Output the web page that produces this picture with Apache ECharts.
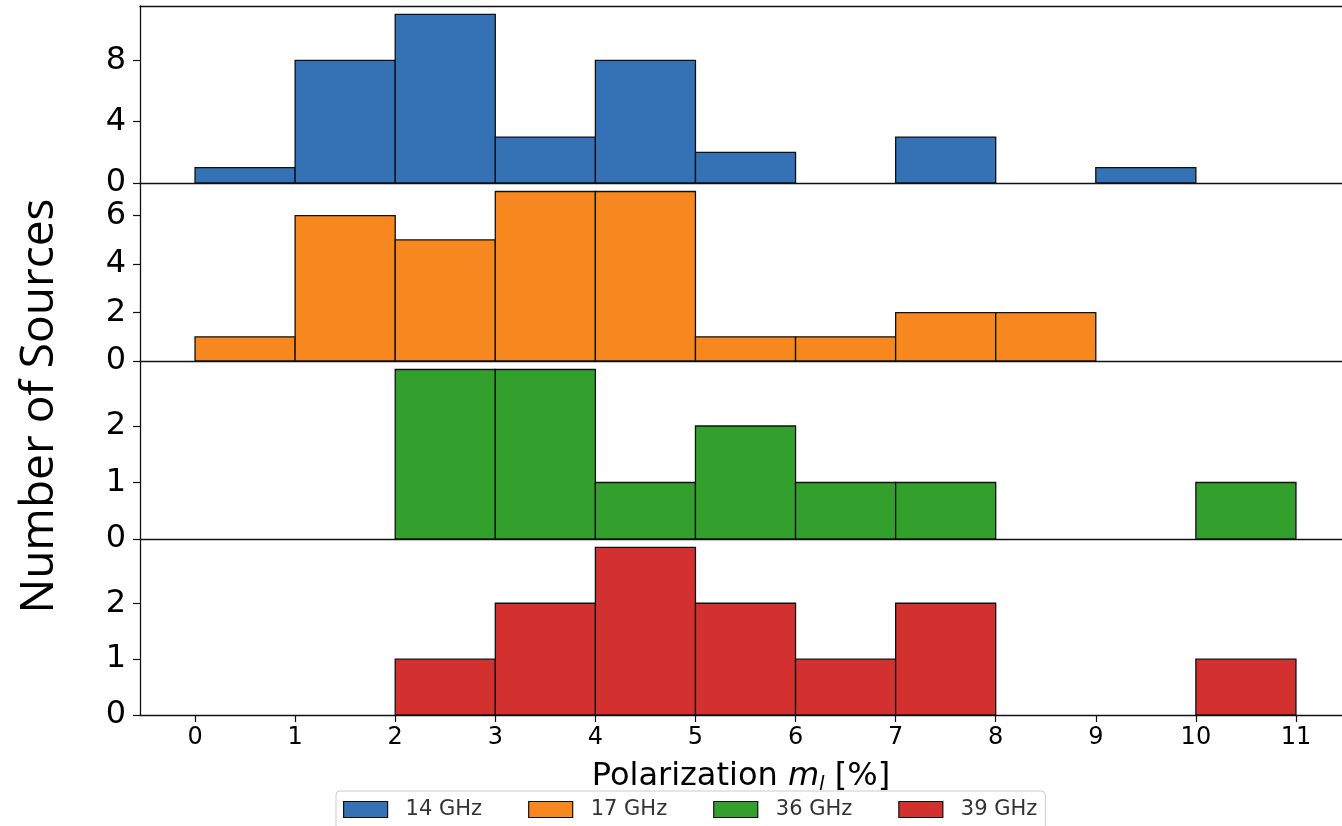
<!DOCTYPE html>
<html>
<head>
<meta charset="utf-8">
<script src="https://cdn.jsdelivr.net/npm/echarts@6/dist/echarts.min.js"></script>
<style>html,body{margin:0;padding:0;background:#fff;}#c{width:1342px;height:826px;}</style>
</head>
<body>
<div id="c"></div>
<script>
// Histogram bin edges (Polarization m_l [%])
const binEdges = [0,1,2,3,4,5,6,7,8,9,10,11];
// Counts per bin
const counts14 = [1,8,11,3,8,2,0,3,0,1,0];
const counts17 = [1,6,5,7,7,1,1,2,2,0,0];
const counts36 = [0,0,3,3,1,2,1,1,0,0,1];
const counts39 = [0,0,1,2,3,2,1,2,0,0,1];
const seriesNames = ['14 GHz','17 GHz','36 GHz','39 GHz'];
// Tick labels
const xTicks = [0,1,2,3,4,5,6,7,8,9,10,11];
const yTicks14 = [0,4,8];
const yTicks17 = [0,2,4,6];
const yTicks36 = [0,1,2];
const yTicks39 = [0,1,2];
const yMax = [11.55, 7.35, 3.15, 3.15];

const colors = ['#3571b5','#f7871f','#33a02d','#d33030'];
const allCounts = [counts14, counts17, counts36, counts39];
const allYTicks = [yTicks14, yTicks17, yTicks36, yTicks39];

const chart = echarts.init(document.getElementById('c'));
const tickFont = 'DejaVu Sans';
const grids = [], xAxes = [], yAxes = [], series = [];
const gridTops = [6, 183, 361, 539];
const gridBottoms = [183, 361, 539, 715];
const xMin = -0.55, xMax = 11.46;
for (let i = 0; i < 4; i++) {
  grids.push({left: 140, width: 1202, top: gridTops[i], height: gridBottoms[i] - gridTops[i]});
  const isLast = i === 3;
  xAxes.push({
    type: 'value', gridIndex: i, min: xMin, max: xMax, position: 'bottom',
    splitLine: {show: false},
    axisLine: {show: true, onZero: false, lineStyle: {color: '#111', width: 1.3}},
    axisTick: {show: isLast, length: 7, customValues: xTicks, lineStyle: {color: '#111', width: 1.2}},
    axisLabel: {show: isLast, customValues: xTicks, fontFamily: tickFont, fontSize: 24, color: '#000', margin: 11},
    name: isLast ? '{a|Polarization }{i|m}{s|l}{a| [%]}' : '',
    nameLocation: 'middle', nameGap: 44,
    nameTextStyle: {
      rich: {
        a: {fontFamily: tickFont, fontSize: 32, color: '#000', lineHeight: 36},
        i: {fontFamily: tickFont, fontSize: 32, fontStyle: 'italic', color: '#000', lineHeight: 36},
        s: {fontFamily: tickFont, fontSize: 20, fontStyle: 'italic', color: '#000', verticalAlign: 'bottom'}
      }
    }
  });
  yAxes.push({
    type: 'value', gridIndex: i, min: 0, max: yMax[i],
    splitLine: {show: false},
    axisLine: {show: true, onZero: false, lineStyle: {color: '#111', width: 1.3}},
    axisTick: {show: true, length: 7, customValues: allYTicks[i], lineStyle: {color: '#111', width: 1.2}},
    axisLabel: {customValues: allYTicks[i], fontFamily: tickFont, fontSize: 32, color: '#000', margin: 14}
  });
  const data = [];
  allCounts[i].forEach((c, k) => { if (c > 0) data.push([binEdges[k], binEdges[k+1], c]); });
  const col = colors[i];
  series.push({
    type: 'custom', name: seriesNames[i], xAxisIndex: i, yAxisIndex: i,
    itemStyle: {color: col},
    encode: {x: [0, 1], y: 2},
    data: data,
    renderItem: function (params, api) {
      const p0 = api.coord([api.value(0), api.value(2)]);
      const p1 = api.coord([api.value(1), 0]);
      return {type: 'rect', shape: {x: p0[0], y: p0[1], width: p1[0] - p0[0], height: p1[1] - p0[1]},
        style: {fill: col, stroke: '#111', lineWidth: 1.3}};
    }
  });
}
// top frame line of first panel
xAxes.push({
  type: 'value', gridIndex: 0, min: xMin, max: xMax, position: 'top',
  splitLine: {show: false}, axisTick: {show: false}, axisLabel: {show: false},
  axisLine: {show: true, onZero: false, lineStyle: {color: '#111', width: 1.3}}
});

chart.setOption({
  animation: false,
  backgroundColor: '#fff',
  grid: grids, xAxis: xAxes, yAxis: yAxes, series: series,
  legend: {
    left: 336, top: 791, orient: 'horizontal',
    padding: [8, 8, 12, 7], itemGap: 46,
    borderColor: '#cccccc', borderWidth: 1, borderRadius: 4, backgroundColor: '#fff',
    itemWidth: 44, itemHeight: 16, icon: 'rect',
    textStyle: {fontFamily: tickFont, fontSize: 21, color: '#333', padding: [0, 0, 0, 13]},
    data: seriesNames.map((n, i) => ({name: n, itemStyle: {color: colors[i], borderColor: '#111', borderWidth: 1.2}}))
  },
  graphic: [{
    type: 'text', rotation: Math.PI / 2,
    x: 40, y: 406,
    style: {text: 'Number of Sources', fontFamily: 'Open Sans', fontSize: 46, fill: '#000', align: 'center', verticalAlign: 'middle'}
  }]
});
</script>
</body>
</html>
